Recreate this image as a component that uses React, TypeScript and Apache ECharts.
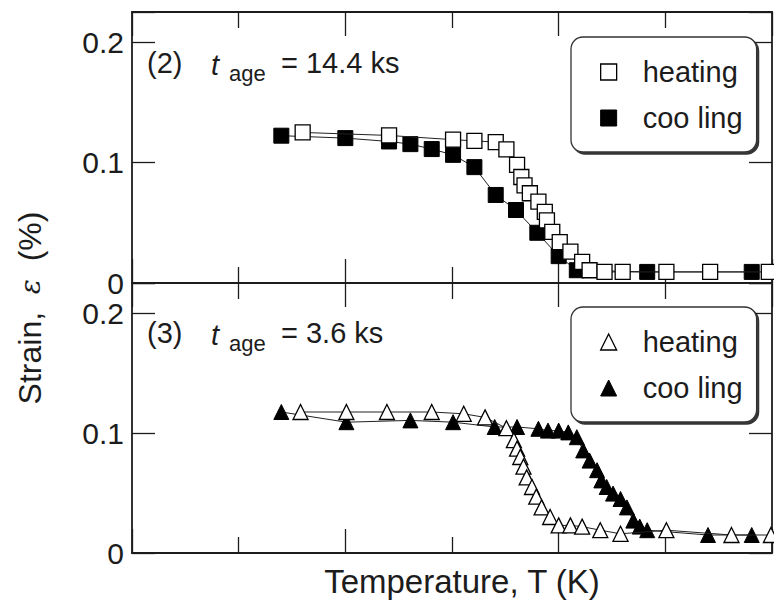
import React, { useEffect, useRef } from "react";
import * as echarts from "echarts";

// Panel (2): t_age = 14.4 ks
const heating2X = [1.6, 2.41, 3.01, 3.21, 3.41, 3.51, 3.61, 3.65, 3.68, 3.73, 3.81, 3.87, 3.89, 3.94, 4.01, 4.11, 4.22, 4.29, 4.43, 4.6, 5.01, 5.42, 5.97];
const heating2Y = [0.125, 0.1225, 0.119, 0.118, 0.117, 0.111, 0.098, 0.088, 0.081, 0.0745, 0.0675, 0.059, 0.052, 0.0425, 0.034, 0.026, 0.0175, 0.0106, 0.0092, 0.0092, 0.0092, 0.0092, 0.0092];
const cooling2X = [1.4, 2.0, 2.41, 2.61, 2.81, 3.01, 3.21, 3.41, 3.6, 3.8, 4.0, 4.17, 4.83, 5.81];
const cooling2Y = [0.1223, 0.1203, 0.1175, 0.1153, 0.1112, 0.1064, 0.0962, 0.0731, 0.0606, 0.0417, 0.0223, 0.0106, 0.0092, 0.0092];

// Panel (3): t_age = 3.6 ks
const heating3X = [1.58, 2.01, 2.39, 2.81, 3.11, 3.31, 3.51, 3.58, 3.61, 3.64, 3.67, 3.7, 3.75, 3.79, 3.84, 3.92, 4.0, 4.11, 4.22, 4.39, 4.58, 5.01, 5.62, 5.99];
const heating3Y = [0.1175, 0.1175, 0.1175, 0.1175, 0.116, 0.113, 0.104, 0.094, 0.087, 0.08, 0.072, 0.063, 0.055, 0.047, 0.038, 0.03, 0.023, 0.023, 0.022, 0.019, 0.016, 0.019, 0.015, 0.015];
const cooling3X = [1.4, 2.01, 2.61, 3.01, 3.4, 3.61, 3.81, 3.9, 4.0, 4.09, 4.17, 4.23, 4.29, 4.36, 4.4, 4.45, 4.51, 4.58, 4.64, 4.7, 4.76, 4.83, 5.4, 5.81];
const cooling3Y = [0.1175, 0.109, 0.1105, 0.109, 0.105, 0.105, 0.1035, 0.102, 0.102, 0.1005, 0.0965, 0.0855, 0.077, 0.069, 0.0605, 0.055, 0.0495, 0.045, 0.038, 0.027, 0.022, 0.019, 0.015, 0.015];

const strainTicks = ["0", "0.1", "0.2"];
const legendLabels: Record<string, string> = {
  h2: "heating",
  c2: "coo ling",
  h3: "heating",
  c3: "coo ling",
};

const FONT = '"Liberation Sans", Arial, Helvetica, sans-serif';
const INK = "#1c1c1c";

const zip = (xs: number[], ys: number[]) => xs.map((x, i) => [x, ys[i]]);

const xAxisFor = (gridIndex: number, position: "top" | "bottom") => ({
  type: "value",
  gridIndex,
  position,
  min: 0,
  max: 6,
  interval: 2,
  axisLine: { show: true, onZero: false, lineStyle: { color: INK, width: 1.8 } },
  axisTick: { show: true, inside: true, length: 24, lineStyle: { color: INK, width: 1.3 } },
  minorTick: { show: true, splitNumber: 2, length: 16, lineStyle: { color: INK, width: 1.3 } },
  axisLabel: { show: false },
  splitLine: { show: false },
  minorSplitLine: { show: false },
});

const yAxisFor = (gridIndex: number, position: "left" | "right") => ({
  type: "value",
  gridIndex,
  position,
  min: 0,
  max: 0.225,
  interval: 0.1,
  axisLine: { show: true, onZero: false, lineStyle: { color: INK, width: 1.8 } },
  axisTick: { show: true, inside: true, length: 23, lineStyle: { color: INK, width: 1.3 } },
  axisLabel: {
    show: position === "left",
    margin: 8,
    fontFamily: FONT,
    fontSize: 30,
    lineHeight: 26,
    color: INK,
    formatter: (v: number) => {
      const k = Math.round(v * 10);
      return Math.abs(v * 10 - k) < 1e-6 ? strainTicks[k] ?? "" : "";
    },
  },
  splitLine: { show: false },
});

const legendFor = (top: number, names: string[], icon: string) => ({
  orient: "vertical",
  left: 571,
  top,
  padding: [20, 14, 19, 29],
  itemWidth: 16,
  itemHeight: 16,
  itemGap: 16,
  selectedMode: false,
  backgroundColor: "#fff",
  borderColor: "#333",
  borderWidth: 1.3,
  borderRadius: 12,
  shadowColor: "rgba(0,0,0,0.8)",
  shadowBlur: 0,
  shadowOffsetX: 2,
  shadowOffsetY: 2,
  textStyle: { fontFamily: FONT, fontSize: 29, color: INK, lineHeight: 30, padding: [0, 0, 0, 21] },
  formatter: (n: string) => legendLabels[n],
  data: [
    { name: names[0], icon, itemStyle: { color: "#fff", borderColor: "#000", borderWidth: 1.3 } },
    { name: names[1], icon, itemStyle: { color: "#000", borderColor: "#000", borderWidth: 1 } },
  ],
});

const seriesFor = (
  name: string,
  axis: number,
  data: number[][],
  symbol: string,
  open: boolean
) => ({
  type: "line",
  name,
  xAxisIndex: axis * 2,
  yAxisIndex: axis * 2,
  data,
  symbol,
  symbolSize: 15,
  silent: true,
  z: open ? 3 : 2,
  lineStyle: { color: "#222", width: 1 },
  itemStyle: open
    ? { color: "#fff", borderColor: "#000", borderWidth: 1.3 }
    : { color: "#000", borderColor: "#000", borderWidth: 1 },
  emphasis: { disabled: true },
});

const annotation = (y: number, label: string, value: string) => [
  {
    type: "text",
    x: 147,
    y,
    style: { text: label, fontFamily: FONT, fontSize: 29, fill: INK, verticalAlign: "middle" },
  },
  {
    type: "text",
    x: 211,
    y: y + 2,
    style: { text: "t", fontFamily: FONT, fontSize: 29, fontStyle: "italic", fill: INK, verticalAlign: "middle" },
  },
  {
    type: "text",
    x: 229,
    y: y + 10,
    style: { text: "age", fontFamily: FONT, fontSize: 22, fill: INK, verticalAlign: "middle" },
  },
  {
    type: "text",
    x: 281,
    y,
    style: { text: "= " + value, fontFamily: FONT, fontSize: 29, fill: INK, verticalAlign: "middle" },
  },
];

const option = {
  animation: false,
  backgroundColor: "#fff",
  grid: [
    { left: 132, top: 12, width: 640, height: 271 },
    { left: 132, top: 283, width: 640, height: 270 },
  ],
  xAxis: [xAxisFor(0, "bottom"), xAxisFor(0, "top"), xAxisFor(1, "bottom"), xAxisFor(1, "top")],
  yAxis: [yAxisFor(0, "left"), yAxisFor(0, "right"), yAxisFor(1, "left"), yAxisFor(1, "right")],
  legend: [legendFor(37, ["h2", "c2"], "rect"), legendFor(307, ["h3", "c3"], "triangle")],
  series: [
    seriesFor("c2", 0, zip(cooling2X, cooling2Y), "rect", false),
    seriesFor("h2", 0, zip(heating2X, heating2Y), "rect", true),
    seriesFor("c3", 1, zip(cooling3X, cooling3Y), "triangle", false),
    seriesFor("h3", 1, zip(heating3X, heating3Y), "triangle", true),
  ],
  graphic: [
    ...annotation(63, "(2)", "14.4 ks"),
    ...annotation(333, "(3)", "3.6 ks"),
    {
      type: "text",
      x: 30,
      y: 308,
      rotation: Math.PI / 2,
      style: {
        text: "Strain,  {e|ε}  (%)",
        rich: { e: { fontFamily: '"DejaVu Serif", serif', fontStyle: "italic", fontSize: 28, fill: INK } },
        fontFamily: FONT,
        fontSize: 32,
        fill: INK,
        align: "center",
        verticalAlign: "middle",
      },
    },
    {
      type: "text",
      x: 462,
      y: 581,
      style: {
        text: "Temperature, T (K)",
        fontFamily: FONT,
        fontSize: 33,
        fill: INK,
        align: "center",
        verticalAlign: "middle",
      },
    },
  ],
};

export default function App() {
  const ref = useRef<HTMLDivElement>(null);
  useEffect(() => {
    const chart = echarts.init(ref.current!, null, { renderer: "svg", width: 774, height: 601 });
    chart.setOption(option as any);
    return () => chart.dispose();
  }, []);
  return (
    <div
      ref={ref}
      style={{ position: "fixed", left: 0, top: 0, width: 774, height: 601, background: "#fff" }}
    />
  );
}
